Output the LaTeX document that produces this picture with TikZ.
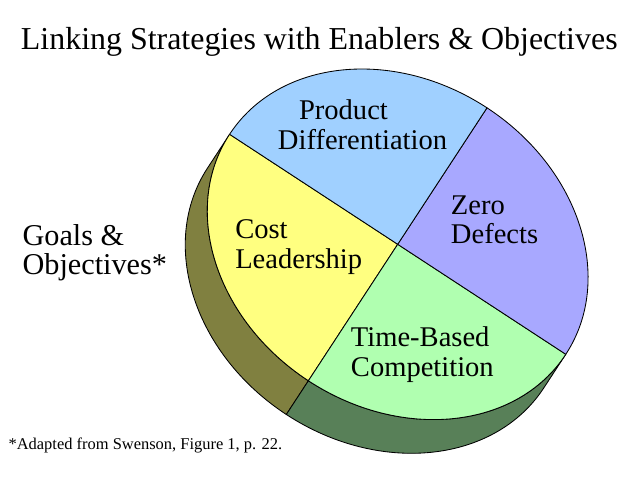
\documentclass[tikz,border=0pt]{standalone}
\usepackage{fontspec}
\setmainfont{Liberation Serif}
\definecolor{azzurro}{RGB}{160,208,255}
\definecolor{viola}{RGB}{168,168,255}
\definecolor{verde}{RGB}{176,255,176}
\definecolor{giallo}{RGB}{255,255,128}
\definecolor{olivastro}{RGB}{128,128,64}
\definecolor{verdescuro}{RGB}{88,128,88}
\begin{document}
\begin{tikzpicture}[x=0.025cm,y=0.025cm,
		fetta/.style={draw=black, line width=0.6pt, line join=round},
		etichetta/.style={font=\fontsize{20.3}{21.3}\selectfont, align=left, anchor=base west, inner sep=0pt},
		]
		% ── Parametri ──
		\def\ra{200.9}\def\rb{163.1}\def\hdisco{40.3}\def\incl{-33.2}
		\useasboundingbox (0,0) rectangle (640,480);
		% ── Torta: fianchi e spicchi ──
		\begin{scope}[shift={(397.7,235.7)}, rotate=\incl]
			\foreach \a/\b/\col in {180/270/olivastro, 270/360/verdescuro}
			\draw[fetta, fill=\col] ({\ra*cos(\a)},{\rb*sin(\a)}) arc[start angle=\a, end angle=\b, x radius=\ra, y radius=\rb]
				-- ++(0,-\hdisco) arc[start angle=\b, end angle=\a, x radius=\ra, y radius=\rb] -- cycle;
			\foreach \a/\b/\col in {180/270/giallo, 270/360/verde, 0/90/viola, 90/180/azzurro}
			\draw[fetta, fill=\col] (0,0) -- ({\ra*cos(\a)},{\rb*sin(\a)}) arc[start angle=\a, end angle=\b, x radius=\ra, y radius=\rb] -- cycle;
		\end{scope}
		% ── Testi (ancora sulla base dell'ultima riga) ──
		\node[etichetta, font=\fontsize{22.7}{24}\selectfont] (titolo) at (20.7,430.7) {Linking Strategies with Enablers \& Objectives};
		\node[etichetta] (prodotto) at (277.7,330.7) {\hspace*{15pt}Product\\Differentiation};
		\node[etichetta] (difetti) at (450.7,236) {Zero\\Defects};
		\node[etichetta] (costo) at (235,211.3) {Cost\\Leadership};
		\node[etichetta] (tempo) at (350.7,103.3) {Time-Based\\Competition};
		\node[etichetta, font=\fontsize{21.5}{20.5}\selectfont] (obiettivi) at (22.3,205.5) {Goals \&\\Objectives*};
		\node[etichetta, font=\fontsize{11.7}{13}\selectfont] (nota) at (8.3,30) {*Adapted from Swenson, Figure 1, p. 22.};
\end{tikzpicture}
\end{document}
